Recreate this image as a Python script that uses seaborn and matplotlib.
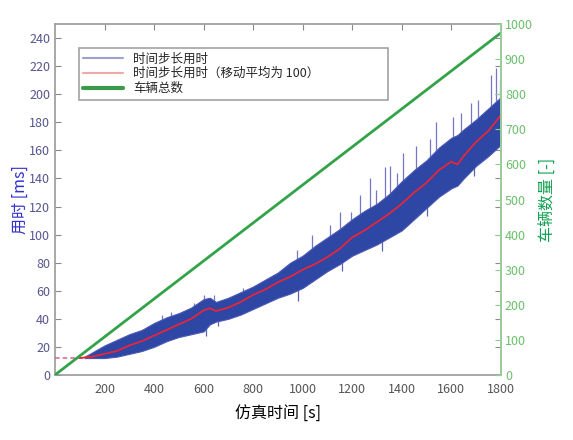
import numpy as np
import pandas as pd
import matplotlib
matplotlib.use('Agg')
import matplotlib.pyplot as plt
import seaborn as sns
from matplotlib.lines import Line2D

# values
band_t = [120, 150, 200, 250, 300, 350, 400, 450, 500, 550, 600, 625, 650, 700,
          750, 800, 850, 900, 950, 1000, 1050, 1100, 1150, 1200, 1250, 1300,
          1350, 1400, 1450, 1500, 1550, 1600, 1625, 1650, 1700, 1750, 1800]
band_upper = [13, 16, 21, 25, 29, 32, 37, 41, 44, 48, 54, 55, 52, 55,
              59, 63, 68, 73, 80, 85, 92, 98, 104, 111, 117, 122,
              129, 138, 146, 153, 162, 169, 171, 175, 182, 190, 198]
band_lower = [12, 12, 12, 13, 15, 17, 20, 24, 27, 29, 31, 36, 38, 40,
              43, 47, 51, 55, 58, 62, 68, 74, 79, 85, 89, 93,
              98, 103, 111, 119, 127, 133, 135, 140, 149, 156, 164]

# moving average (window 100)
avg_t = [0, 100, 150, 200, 250, 300, 350, 400, 450, 500, 550, 600, 625, 650,
         700, 750, 800, 850, 900, 950, 1000, 1050, 1100, 1150, 1200, 1250,
         1300, 1350, 1400, 1450, 1500, 1550, 1600, 1625, 1650, 1700, 1750, 1800]
avg_ms = [12, 12, 13, 15, 17, 21, 24, 28, 32, 36, 40, 46, 47.5, 45.5,
          48, 52, 57, 61, 66, 70, 75, 79, 84, 90, 98, 103,
          109, 115, 122, 130, 137, 146, 152, 150, 156, 166, 174, 185]

# single peaks above the dense band
spike_t = [430, 470, 560, 600, 640, 760, 880, 976, 1036, 1110, 1150, 1197,
           1231, 1271, 1298, 1331, 1351, 1379, 1404, 1459, 1513, 1540, 1606,
           1640, 1680, 1706, 1762, 1782, 1795]
spike_top = [43, 45, 51, 57, 57, 62, 71, 89, 100, 107, 116, 116,
             128, 140, 132, 148, 149, 144, 158, 163, 168, 180, 184,
             187, 194, 196, 214, 219, 211]
spike_base = [35, 38, 44, 50, 48, 55, 64, 70, 77, 82, 90, 95,
              100, 104, 108, 113, 116, 119, 122, 132, 140, 142, 152,
              154, 160, 165, 176, 180, 184]

# single dips below the dense band
dip_t = [610, 660, 980, 1160, 1320, 1500, 1690]
dip_bottom = [28, 35, 53, 74, 88, 113, 142]
dip_base = [40, 44, 65, 85, 100, 125, 155]

lead_t = [0, 120]
lead_ms = [12, 12]

vehicle_t = [0, 1800]
vehicle_count = [0, 975]

legend_labels = ['时间步长用时', '时间步长用时（移动平均为 100）', '车辆总数']

sns.set_style('white')
plt.rcParams['font.family'] = ['Noto Sans CJK SC', 'DejaVu Sans']

fig = plt.figure(figsize=(5.73, 4.40), dpi=100)
ax = fig.add_axes([0.096, 0.148, 0.778, 0.797])
ax2 = ax.twinx()

# step time: spikes behind the dense band, then the moving average
ax.vlines(spike_t, spike_base, spike_top, color='#7676c4', lw=0.9, zorder=1)
ax.vlines(dip_t, dip_bottom, dip_base, color='#5a62b4', lw=0.9, zorder=1)
ax.fill_between(band_t, band_lower, band_upper, color='#2e46a4', lw=0.8,
                edgecolor='#4a58b4', zorder=2)
avg = pd.DataFrame({'t': avg_t[2:], 'ms': avg_ms[2:]})
sns.lineplot(data=avg, x='t', y='ms', ax=ax, color='#e8263a', lw=1.3, zorder=3)
ax.plot(lead_t, lead_ms, color='#e0607a', lw=1.1, ls=(0, (3, 2)), zorder=3)
ax.plot(avg_t[1:3], avg_ms[1:3], color='#e8263a', lw=1.3, zorder=3)

veh = pd.DataFrame({'t': vehicle_t, 'n': vehicle_count})
sns.lineplot(data=veh, x='t', y='n', ax=ax2, color='#33a348', lw=2.0)

ax.set_xlim(0, 1800)
ax.set_ylim(0, 250)
ax.set_xticks(range(200, 1801, 200))
ax.set_yticks(range(0, 241, 20))
ax.tick_params(direction='in', top=True, right=True, length=4, width=0.8,
               color='#8a8a8a', labelsize=9)
ax.tick_params(axis='y', labelcolor='#56568f')
ax.tick_params(axis='x', labelcolor='#555555', pad=6)
for side in ax.spines.values():
    side.set_color('#9a9a9a')
    side.set_linewidth(1.2)

ax2.set_ylim(0, 1000)
ax2.set_yticks(range(0, 1001, 100))
ax2.tick_params(direction='in', length=4, width=0.8, color='#8fd08f',
                labelcolor='#6cbf6c', labelsize=9, pad=3)
for name in ['left', 'top', 'bottom']:
    ax2.spines[name].set_visible(False)
ax2.spines['right'].set_color('#9ad49a')
ax2.spines['right'].set_linewidth(1.2)

ax.set_xlabel('仿真时间 [s]', fontsize=11.5, color='black', labelpad=6)
ax.set_ylabel('用时 [ms]', fontsize=11.5, color='#3030d0', labelpad=0)
ax2.set_ylabel('车辆数量 [-]', fontsize=11.5, color='#10a050', labelpad=4)

handles = [Line2D([], [], color='#a0a0d0', lw=1.5),
           Line2D([], [], color='#f0a8a8', lw=1.5),
           Line2D([], [], color='#3a9a4a', lw=3)]
leg = ax2.legend(handles, legend_labels, loc='upper left',
                 bbox_to_anchor=(0.054, 0.78, 0.693, 0.152), mode='expand',
                 fontsize=9, frameon=True, fancybox=False, handlelength=3.2,
                 labelspacing=0.15, borderpad=0.35, borderaxespad=0)
leg.get_frame().set_edgecolor('#8a8a8a')
leg.get_frame().set_linewidth(1.2)

fig.savefig('out.png', dpi=100)
